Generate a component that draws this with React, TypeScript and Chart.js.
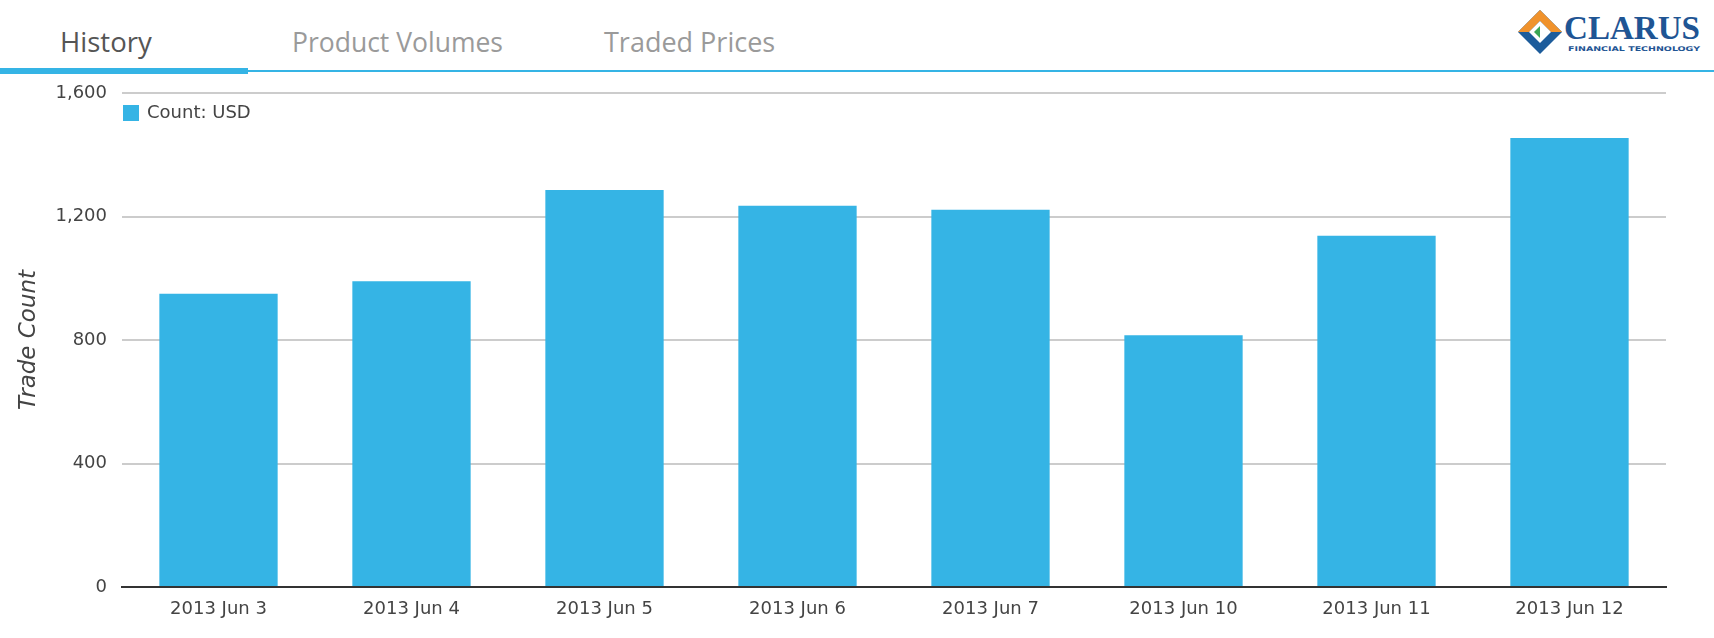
import React, { useEffect, useRef } from "react";
import { Chart, registerables } from "chart.js";

Chart.register(...registerables);

const categories = [
  "2013 Jun 3",
  "2013 Jun 4",
  "2013 Jun 5",
  "2013 Jun 6",
  "2013 Jun 7",
  "2013 Jun 10",
  "2013 Jun 11",
  "2013 Jun 12",
];
const countUSD = [950, 990, 1286, 1235, 1222, 815, 1138, 1454];
const seriesLabel = "Count: USD";
const yAxisTitle = "Trade Count";
const yMin = 0;
const yMax = 1600;
const yStep = 400;
const tabs = ["History", "Product Volumes", "Traded Prices"];

const BLUE = "#35B4E5";
const TEXT = "#444444";
const FONT = "'DejaVu Sans', Verdana, sans-serif";

// Legend drawn inside the plot area (top-left), from the dataset itself
const insideLegend = {
  id: "insideLegend",
  afterDraw(chart: any) {
    const { ctx, chartArea } = chart;
    const ds = chart.data.datasets[0];
    const x = chartArea.left + 1;
    const y = chartArea.top + 12;
    ctx.save();
    ctx.fillStyle = ds.backgroundColor;
    ctx.fillRect(x, y, 16, 16);
    ctx.fillStyle = TEXT;
    ctx.font = `18px ${FONT}`;
    ctx.textBaseline = "middle";
    ctx.textAlign = "left";
    ctx.fillText(ds.label, x + 24, y + 8.5);
    ctx.restore();
  },
};

function Header() {
  return (
    <svg
      width={1714}
      height={76}
      style={{ position: "absolute", left: 0, top: 0, display: "block" }}
    >
      <text x={60} y={52} fontFamily="'Open Sans', sans-serif" fontSize={27.5} fill="#555555">
        {tabs[0]}
      </text>
      <text x={292} y={52} fontFamily="'Open Sans', sans-serif" fontSize={26.5} fill="#9a9a9a">
        {tabs[1]}
      </text>
      <text x={604} y={52} fontFamily="'Open Sans', sans-serif" fontSize={27} fill="#9a9a9a">
        {tabs[2]}
      </text>
      <rect x={0} y={68} width={248} height={6} fill={BLUE} />
      <rect x={248} y={70} width={1466} height={2} fill={BLUE} />
      {/* logo */}
      <g>
        <polygon points="1540,10 1562,32 1540,54 1518,32" fill="#1d5c9b" />
        <polygon points="1540,10 1562,32 1551,32 1540,21 1529,32 1518,32" fill="#f0922c" />
        <polygon points="1540,21 1551,32 1540,43 1529,32" fill="#ffffff" />
        <polygon points="1540,26 1540,38 1534,32" fill="#3aa655" />
        <text
          x={1564}
          y={39}
          fontFamily="'Liberation Serif', serif"
          fontSize={34}
          fontWeight={700}
          fill="#1f5594"
          textLength={136}
          lengthAdjust="spacingAndGlyphs"
        >
          CLARUS
        </text>
        <text
          x={1568}
          y={51}
          fontFamily="'DejaVu Sans', sans-serif"
          fontSize={6.5}
          fontWeight={700}
          fill="#1f5594"
          textLength={132}
          lengthAdjust="spacingAndGlyphs"
        >
          FINANCIAL TECHNOLOGY
        </text>
      </g>
    </svg>
  );
}

export default function App() {
  const canvasRef = useRef<HTMLCanvasElement | null>(null);

  useEffect(() => {
    if (!canvasRef.current) return;
    const chart = new Chart(canvasRef.current, {
      type: "bar",
      data: {
        labels: categories,
        datasets: [
          {
            label: seriesLabel,
            data: countUSD,
            backgroundColor: BLUE,
            borderWidth: 0,
            barPercentage: 0.613,
            categoryPercentage: 1,
          },
        ],
      },
      plugins: [insideLegend],
      options: {
        animation: false,
        responsive: false,
        devicePixelRatio: 1,
        layout: { padding: { top: 17, right: 48, left: 0, bottom: 0 } },
        plugins: {
          tooltip: { enabled: false },
          legend: { display: false },
        },
        scales: {
          x: {
            grid: { display: false, drawTicks: false },
            border: { display: true, color: "#333333", width: 2 },
            ticks: {
              color: TEXT,
              font: { family: FONT, size: 18 },
              padding: 12,
              maxRotation: 0,
              autoSkip: false,
            },
            afterFit: (axis: any) => {
              axis.height = 51;
              axis.paddingLeft = 0;
              axis.paddingRight = 0;
            },
          },
          y: {
            min: yMin,
            max: yMax,
            ticks: {
              stepSize: yStep,
              color: TEXT,
              font: { family: FONT, size: 18 },
              padding: 15,
            },
            grid: { color: "#cccccc", lineWidth: 2, drawTicks: false },
            border: { display: false },
            title: {
              display: true,
              text: yAxisTitle,
              color: TEXT,
              font: { family: FONT, size: 23, style: "italic" },
              padding: { top: 15, bottom: 0 },
            },
            afterFit: (axis: any) => {
              axis.width = 122;
              axis.paddingTop = 0;
              axis.paddingBottom = 0;
            },
          },
        },
      },
    });
    return () => chart.destroy();
  }, []);

  return (
    <div
      style={{
        position: "absolute",
        left: 0,
        top: 0,
        width: 1714,
        height: 638,
        background: "#ffffff",
        overflow: "hidden",
      }}
    >
      <Header />
      <canvas
        ref={canvasRef}
        width={1714}
        height={562}
        style={{ position: "absolute", left: 0, top: 76, width: 1714, height: 562 }}
      />
    </div>
  );
}
